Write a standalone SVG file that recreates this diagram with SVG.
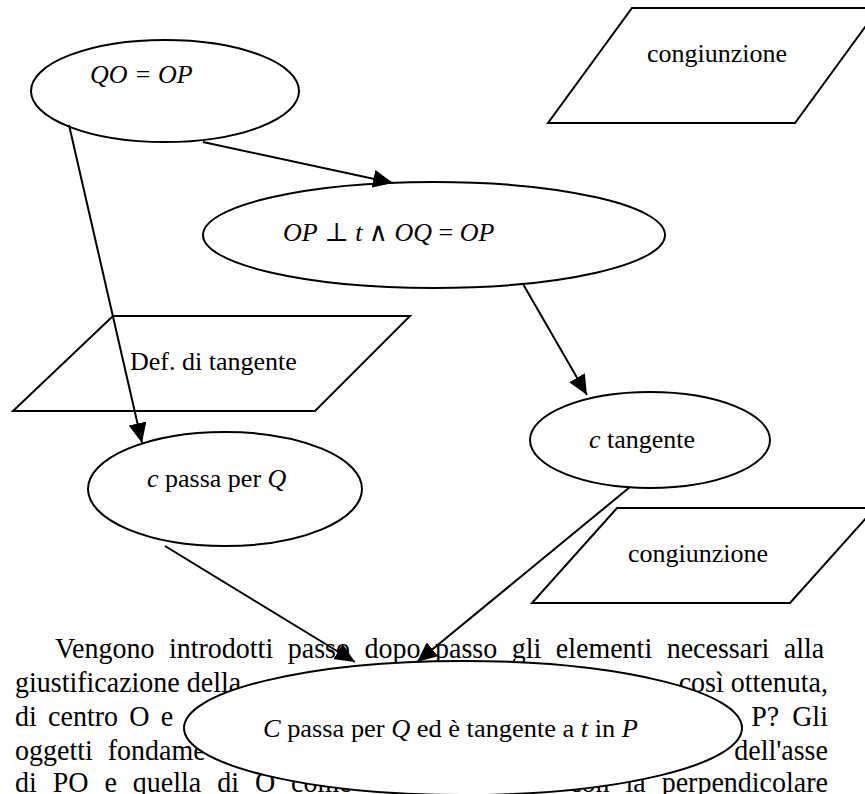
<svg xmlns="http://www.w3.org/2000/svg" width="865" height="794" viewBox="0 0 865 794">
<style>
  .shape{fill:#fff;stroke:#000;stroke-width:2}
  .lbl{font-family:"Liberation Serif","Times New Roman","DejaVu Serif",serif;font-size:26px;fill:#000}
  .it{font-style:italic}
  .body{font-family:"Liberation Serif","Times New Roman",serif;font-size:30px;fill:#000}
  .conn line{stroke:#000;stroke-width:2}
</style>
<defs>
  <marker id="arr" viewBox="0 0 20 18" refX="20" refY="9" markerWidth="20" markerHeight="18" markerUnits="userSpaceOnUse" orient="auto">
    <path d="M0,0 L20,9 L0,18 z" fill="#000"/>
  </marker>
</defs>
<rect width="865" height="794" fill="#fff"/>
<g id="bodytext" class="body" transform="scale(0.9333,1)">
  <text x="58.9" y="658" word-spacing="8.1">Vengono introdotti passo dopo passo gli elementi necessari alla</text>
  <text x="16.1" y="692">giustificazione della</text>
  <text x="887.1" y="692" text-anchor="end">così ottenuta,</text>
  <text x="16.1" y="726" word-spacing="4.6">di centro O e</text>
  <text x="887.1" y="726" text-anchor="end" word-spacing="6.4">P? Gli</text>
  <text x="16.1" y="760" word-spacing="8.5">oggetti fondame</text>
  <text x="887.1" y="760" text-anchor="end">dell'asse</text>
  <text x="16.1" y="792" word-spacing="9.6">di PO e quella di O come</text>
  <text x="887.1" y="792" text-anchor="end" word-spacing="9.6">con la perpendicolare</text>
</g>
<g id="n-qo">
  <ellipse class="shape" cx="165" cy="91" rx="134" ry="51"/>
  <text class="lbl it" x="90" y="83">QO = OP</text>
</g>
<g id="n-cong1">
  <polygon class="shape" points="632,8 879,8 795,123 548,123"/>
  <text class="lbl" x="647" y="62">congiunzione</text>
</g>
<g id="n-op">
  <ellipse class="shape" cx="434" cy="235" rx="231" ry="53"/>
  <text class="lbl" x="283" y="241"><tspan class="it">OP</tspan>  ⊥ <tspan class="it">t</tspan> ∧ <tspan class="it">OQ</tspan> = <tspan class="it">OP</tspan></text>
</g>
<g id="n-def">
  <polygon class="shape" points="113,316 410,316 315,411 13,411"/>
  <text class="lbl" x="130" y="370">Def. di tangente</text>
</g>
<g id="n-cpassa">
  <ellipse class="shape" cx="225" cy="489" rx="137" ry="57"/>
  <text class="lbl" x="147" y="487"><tspan class="it">c</tspan> passa per <tspan class="it">Q</tspan></text>
</g>
<g id="n-ctang">
  <ellipse class="shape" cx="650" cy="440" rx="120" ry="48"/>
  <text class="lbl" x="589" y="448"><tspan class="it">c</tspan> tangente</text>
</g>
<g id="n-cong2">
  <polygon class="shape" points="617,508 875,508 790,603 532,603"/>
  <text class="lbl" x="628" y="562">congiunzione</text>
</g>
<g id="n-final">
  <ellipse class="shape" cx="463" cy="728" rx="279" ry="67"/>
  <text class="lbl" x="263" y="737" textLength="375" lengthAdjust="spacingAndGlyphs"><tspan class="it">C</tspan> passa per <tspan class="it">Q</tspan> ed è tangente a <tspan class="it">t</tspan> in <tspan class="it">P</tspan></text>
</g>
<g id="connectors" class="conn">
  <line x1="203" y1="142" x2="393" y2="183" marker-end="url(#arr)"/>
  <line x1="69" y1="125" x2="142" y2="443" marker-end="url(#arr)"/>
  <line x1="523" y1="284" x2="587" y2="395" marker-end="url(#arr)"/>
  <line x1="165" y1="546" x2="355" y2="662" marker-end="url(#arr)"/>
  <line x1="630" y1="487" x2="417" y2="662" marker-end="url(#arr)"/>
</g>
</svg>
